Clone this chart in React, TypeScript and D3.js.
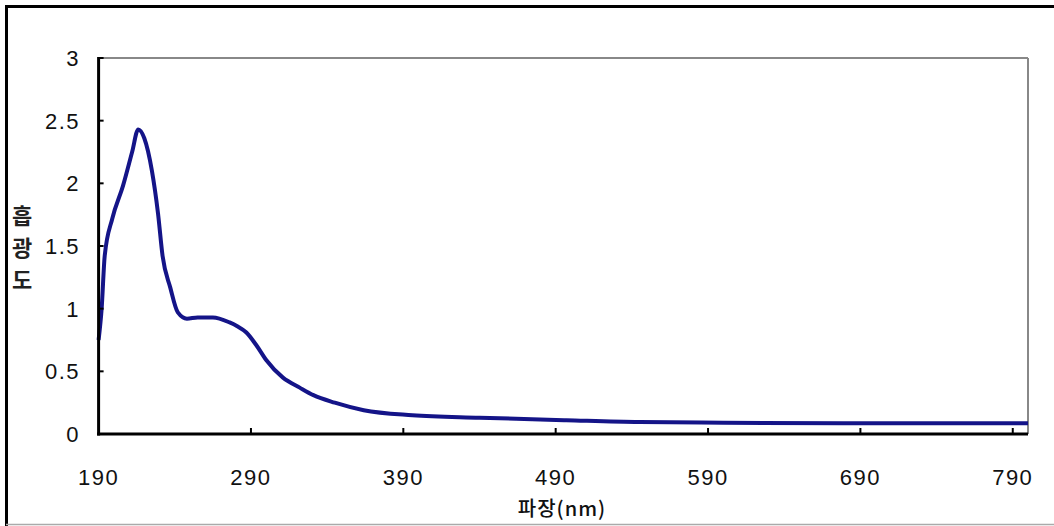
import React from "react";
import * as d3 from "d3";

const wavelengths = [190, 192, 194, 199, 206, 212, 216, 220, 225, 229, 232, 237, 242, 248, 255, 265, 276, 281, 287, 294, 300, 311, 322, 331, 345, 364, 396, 440, 497, 545, 600, 700, 800];
const absorbance = [0.75, 1.0, 1.42, 1.72, 1.98, 2.25, 2.43, 2.36, 2.1, 1.76, 1.42, 1.17, 0.97, 0.92, 0.93, 0.93, 0.89, 0.86, 0.81, 0.7, 0.59, 0.45, 0.37, 0.31, 0.25, 0.19, 0.15, 0.13, 0.11, 0.095, 0.09, 0.085, 0.085];
const xTicks = [190, 290, 390, 490, 590, 690, 790];
const yTicks = [0, 0.5, 1, 1.5, 2, 2.5, 3];
const yTitleChars = ["흡", "광", "도"];
const xTitle = "파장(nm)";

export default function App() {
  const W = 1054, H = 526;
  const left = 98.6, right = 1028, top = 58, bottom = 434;
  const x = d3.scaleLinear().domain([190, 800]).range([left, right]);
  const y = d3.scaleLinear().domain([0, 3]).range([bottom, top]);
  const data = wavelengths.map((w, i) => [w, absorbance[i]] as [number, number]);
  const line = d3.line<[number, number]>().x(d => x(d[0])).y(d => y(d[1])).curve(d3.curveMonotoneX);
  const font = "'Liberation Sans', Arial, sans-serif";
  const kfont = "'Noto Sans CJK KR', sans-serif";
  return (
    <svg width={W} height={H} style={{ position: "absolute", left: 0, top: 0, background: "#fff" }}>
      <rect x={0} y={0} width={W} height={H} fill="#fff" />
      <line x1={6.5} y1={5} x2={6.5} y2={526} stroke="#000" strokeWidth={3} />
      <line x1={5} y1={6.5} x2={W} y2={6.5} stroke="#000" strokeWidth={3} />
      <line x1={6} y1={524.5} x2={W} y2={524.5} stroke="#aaa" strokeWidth={1.5} />
      <line x1={left} y1={top} x2={right} y2={top} stroke="#888" strokeWidth={2} />
      <line x1={right} y1={top} x2={right} y2={bottom} stroke="#888" strokeWidth={2} />
      <path d={line(data) || ""} fill="none" stroke="#141488" strokeWidth={4} strokeLinejoin="round" />
      <line x1={left} y1={top - 1} x2={left} y2={bottom + 1.5} stroke="#000" strokeWidth={3} />
      <line x1={left - 1.5} y1={bottom} x2={right} y2={bottom} stroke="#000" strokeWidth={3} />
      {yTicks.map(t => (
        <g key={"y" + t}>
          <line x1={left} x2={left + 5} y1={y(t)} y2={y(t)} stroke="#000" strokeWidth={2} />
          <text x={80} y={y(t) + 8} textAnchor="end" fontFamily={font} fontSize={22} fill="#111" letterSpacing={1.5}>{t}</text>
        </g>
      ))}
      {xTicks.map(t => (
        <g key={"x" + t}>
          {t !== 190 && <line x1={x(t)} x2={x(t)} y1={bottom} y2={bottom - 6} stroke="#000" strokeWidth={2} />}
          <text x={x(t)} y={485} textAnchor="middle" fontFamily={font} fontSize={22} fill="#111" letterSpacing={1.5}>{t}</text>
        </g>
      ))}
      {yTitleChars.map((c, i) => (
        <text key={c} x={22} y={224 + i * 32} textAnchor="middle" fontFamily={kfont} fontSize={22} fontWeight={700} fill="#222">{c}</text>
      ))}
      <text x={562} y={516} textAnchor="middle" fontFamily={kfont} fontSize={20} fontWeight={500} fill="#111" letterSpacing={1}>{xTitle}</text>
    </svg>
  );
}
